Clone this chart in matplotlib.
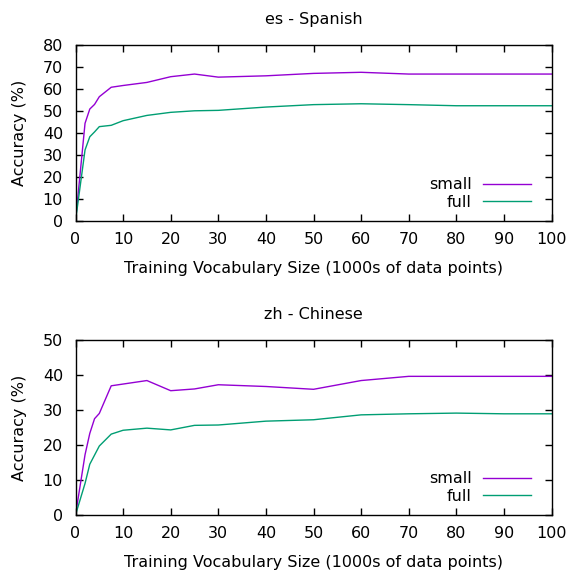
import matplotlib
matplotlib.use("Agg")
import matplotlib.pyplot as plt

# training vocabulary size (1000s of data points)
sizes = [0, 2, 3, 4, 5, 7.5, 10, 15, 20, 25, 30, 40, 50, 60, 70, 80, 90, 100]

es_small = [0, 44.4, 50.9, 53.0, 56.5, 60.8, 61.6, 63.0, 65.6, 66.8, 65.4, 66.0, 67.1, 67.6, 66.8, 66.8, 66.8, 66.8]
es_full = [0, 32.3, 38.3, 40.5, 42.9, 43.5, 45.6, 48.0, 49.4, 50.1, 50.3, 51.8, 52.9, 53.3, 52.9, 52.4, 52.4, 52.4]

zh_small = [0, 17.2, 23.3, 27.5, 29.0, 36.9, 37.4, 38.4, 35.5, 36.0, 37.2, 36.7, 35.9, 38.4, 39.6, 39.6, 39.6, 39.6]
zh_full = [0, 9.0, 14.5, 17.1, 19.7, 23.1, 24.2, 24.8, 24.3, 25.6, 25.7, 26.8, 27.2, 28.6, 28.9, 29.1, 28.9, 28.9]

c_small = "#9400D3"
c_full = "#009E73"

plt.rcParams['font.family'] = ['DejaVu Sans']
fs = 11.5

fig = plt.figure(figsize=(5.69, 5.72), dpi=100)
ax1 = fig.add_axes([0.1327, 0.6136, 0.8366, 0.3077])
ax2 = fig.add_axes([0.1327, 0.0997, 0.8366, 0.3060])

panels = [
    (ax1, "es - Spanish", es_small, es_full, 80),
    (ax2, "zh - Chinese", zh_small, zh_full, 50),
]

for ax, title, small, full, ymax in panels:
    ax.plot(sizes, small, color=c_small, lw=1, label="small")
    ax.plot(sizes, full, color=c_full, lw=1, label="full")
    ax.set_xlim(0, 100)
    ax.set_ylim(0, ymax)
    ax.set_xticks(range(0, 101, 10))
    ax.set_yticks(range(0, ymax + 1, 10))
    ax.tick_params(direction='in', top=True, right=True, length=5, width=1, labelsize=fs)
    ax.tick_params(axis='x', pad=8)
    ax.tick_params(axis='y', pad=9)
    ax.set_title(title, fontsize=fs, pad=15)
    ax.set_xlabel("Training Vocabulary Size (1000s of data points)", fontsize=fs, labelpad=10)
    ax.set_ylabel("Accuracy (%)", fontsize=fs, labelpad=11)
    for s in ax.spines.values():
        s.set_linewidth(1)
    ax.legend(loc='lower right', bbox_to_anchor=(0.98, 0.0), frameon=False,
              markerfirst=False, handlelength=3.0, handletextpad=0.7,
              labelspacing=0.15, fontsize=fs, borderaxespad=0.3)

fig.savefig("out.png", dpi=100)
